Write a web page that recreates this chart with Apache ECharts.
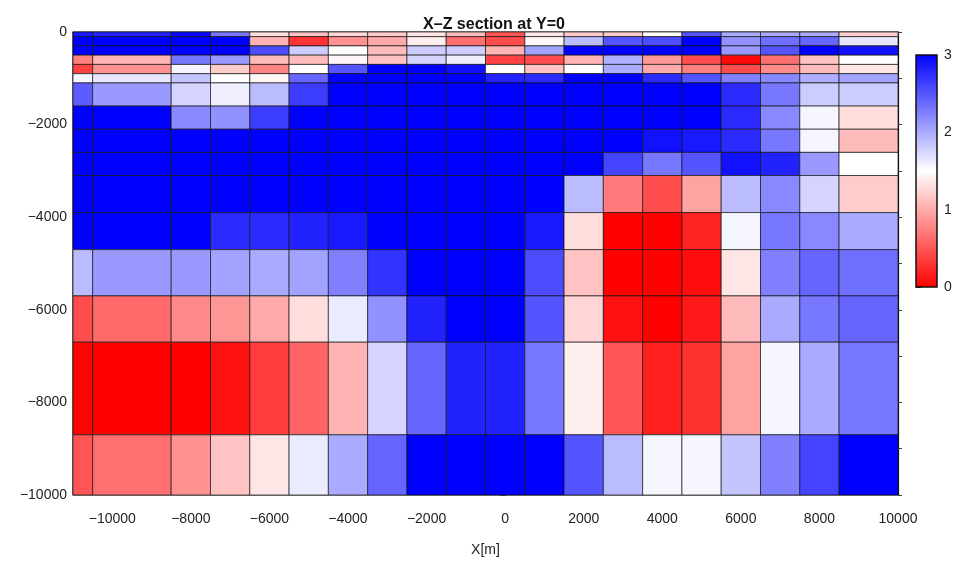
<!DOCTYPE html>
<html>
<head>
<meta charset="utf-8">
<script src="https://cdn.jsdelivr.net/npm/echarts@6/dist/echarts.min.js"></script>
<style>
  html, body { margin: 0; padding: 0; background: #fff; }
  #chart { width: 961px; height: 568px; }
</style>
</head>
<body>
<div id="chart"></div>
<script>
// cell edges of the model grid (metres)
const xEdges = [-11000, -10500, -8500, -7500, -6500, -5500, -4500, -3500, -2500, -1500,
  -500, 500, 1500, 2500, 3500, 4500, 5500, 6500, 7500, 8500, 10000];
const zEdges = [0, -100, -300, -500, -700, -900, -1100, -1600, -2100, -2600, -3100,
  -3900, -4700, -5700, -6700, -8700, -10000];

// one row per depth layer, top to bottom, one value per x cell
const values = [
  [2.85, 2.8, 2.95, 2.3, 1.3, 1.15, 1.25, 1.2, 1.35, 1.1, 0.5, 1.35, 1.2, 1.2, 1.5, 2.5, 2.0, 2.0, 2.0, 1.2],
  [3, 3, 3, 3, 1.05, 0.3, 0.85, 1.0, 1.4, 0.65, 0.45, 1.45, 1.9, 2.5, 2.55, 3, 2.15, 2.35, 2.4, 1.65],
  [3, 3, 3, 3, 2.55, 1.8, 1.5, 1.1, 1.8, 1.8, 1.05, 2.05, 3, 3, 3, 3, 2.1, 2.5, 3, 2.9],
  [0.75, 1.05, 2.3, 2.1, 1.1, 1.1, 1.45, 1.15, 1.75, 1.6, 0.38, 0.45, 1.05, 1.97, 0.9, 0.45, 0.05, 0.65, 1.15, 1.5],
  [0.38, 0.85, 1.55, 1.2, 0.78, 1.5, 2.5, 3, 3, 2.9, 1.5, 1.15, 1.5, 2.0, 1.0, 0.75, 0.45, 0.82, 1.1, 1.35],
  [1.55, 1.65, 1.85, 1.5, 1.45, 2.4, 3, 3, 3, 3, 2.8, 2.75, 3, 3, 2.75, 2.5, 2.25, 2.2, 1.97, 2.05],
  [2.45, 2.1, 1.75, 1.6, 1.9, 2.65, 3, 3, 3, 3, 3, 3, 3, 3, 3, 3, 2.75, 2.3, 1.8, 1.8],
  [3, 3, 2.2, 2.15, 2.65, 3, 3, 3, 3, 3, 3, 3, 3, 3, 3, 3, 2.75, 2.2, 1.55, 1.3],
  [3, 3, 3, 3, 3, 3, 3, 3, 3, 3, 3, 3, 3, 3, 2.9, 2.85, 2.75, 2.3, 1.55, 1.1],
  [3, 3, 3, 3, 3, 3, 3, 3, 3, 3, 3, 3, 3, 2.6, 2.3, 2.5, 2.9, 2.8, 2.1, 1.5],
  [3, 3, 3, 3, 3, 3, 3, 3, 3, 3, 3, 3, 1.9, 0.72, 0.45, 0.95, 1.9, 2.2, 1.75, 1.2],
  [3, 3, 3, 2.75, 2.75, 2.8, 2.85, 3, 3, 3, 3, 2.85, 1.3, 0, 0, 0.2, 1.55, 2.3, 2.2, 2.0],
  [1.9, 2.1, 2.1, 2.05, 2.0, 2.05, 2.25, 2.7, 3, 3, 3, 2.55, 1.15, 0, 0, 0.08, 1.35, 2.25, 2.4, 2.35],
  [0.45, 0.62, 0.8, 0.88, 1.0, 1.3, 1.62, 2.15, 2.8, 3, 3, 2.5, 1.25, 0.1, 0, 0.15, 1.1, 2.0, 2.3, 2.4],
  [0.02, 0, 0, 0.1, 0.35, 0.58, 1.05, 1.75, 2.4, 2.8, 2.8, 2.3, 1.4, 0.5, 0.18, 0.28, 0.95, 1.55, 2.0, 2.3],
  [0.5, 0.65, 0.85, 1.15, 1.35, 1.62, 2.0, 2.4, 3, 3, 3, 3, 2.5, 1.9, 1.55, 1.55, 1.85, 2.25, 2.6, 3]
];

const xLabelValues = [-10000, -8000, -6000, -4000, -2000, 0, 2000, 4000, 6000, 8000, 10000];
const yLabelValues = [0, -2000, -4000, -6000, -8000, -10000];
const scaleMin = 0;
const scaleMax = 3;
const palette = ['#ff0000', '#ffffff', '#0000ff'];

const cells = [];
values.forEach((row, j) => {
  row.forEach((v, i) => {
    cells.push([xEdges[i], xEdges[i + 1], zEdges[j], zEdges[j + 1], v]);
  });
});

const thousands = [];
for (let v = -11000; v <= 10000; v += 1000) thousands.push(v);
const depthTicks = [];
for (let v = -10000; v <= 0; v += 1000) depthTicks.push(v);

const minus = v => String(v).replace('-', '\u2212');
const font = { fontFamily: 'Liberation Sans, Arial, sans-serif', fontSize: 14, color: '#222' };

const myChart = echarts.init(document.getElementById('chart'));
const option = {
  backgroundColor: '#fff',
  animation: false,
  title: {
    text: 'X\u2013Z section at Y=0',
    left: 489,
    top: 12,
    textAlign: 'center',
    textStyle: { fontFamily: 'Liberation Sans, Arial, sans-serif', fontSize: 16, fontWeight: 'bold', color: '#111' }
  },
  grid: [
    { left: 73, right: 63, top: 32, bottom: 73, show: true, borderColor: '#111', borderWidth: 1.2, backgroundColor: 'transparent' },
    { left: 916, width: 21, top: 55, height: 232 }
  ],
  visualMap: {
    show: false,
    type: 'continuous',
    seriesIndex: 0,
    dimension: 4,
    min: scaleMin,
    max: scaleMax,
    inRange: { color: palette }
  },
  xAxis: [
    {
      type: 'value', gridIndex: 0, min: -11000, max: 10000, interval: 1000,
      name: 'X[m]', nameLocation: 'middle', nameGap: 48,
      nameTextStyle: Object.assign({}, font, { fontSize: 14 }),
      axisLine: { show: true, lineStyle: { color: '#111', width: 1.2 } },
      axisTick: { show: true, length: 5, customValues: thousands, lineStyle: { color: '#444' } },
      axisLabel: Object.assign({}, font, { customValues: xLabelValues, formatter: minus, margin: 17 }),
      splitLine: { show: false }
    },
    { type: 'value', gridIndex: 1, min: 0, max: 1, show: false }
  ],
  yAxis: [
    {
      type: 'value', gridIndex: 0, min: -10000, max: 0, interval: 1000,
      axisLine: { show: true, lineStyle: { color: '#111', width: 1.2 } },
      axisTick: { show: true, length: 5, customValues: depthTicks, lineStyle: { color: '#444' } },
      axisLabel: Object.assign({}, font, { customValues: yLabelValues, formatter: minus, margin: 6 }),
      splitLine: { show: false }
    },
    {
      type: 'value', gridIndex: 0, min: -10000, max: 0, interval: 1000, position: 'right',
      axisLine: { show: true, lineStyle: { color: '#111', width: 1.2 } },
      axisTick: { show: true, length: 4, customValues: depthTicks, lineStyle: { color: '#444' } },
      axisLabel: { show: false },
      splitLine: { show: false }
    },
    {
      type: 'value', gridIndex: 1, min: scaleMin, max: scaleMax, interval: 1, position: 'right',
      axisLine: { show: false },
      axisTick: { show: true, length: 5, lineStyle: { color: '#444' } },
      axisLabel: Object.assign({}, font, { margin: 7 }),
      splitLine: { show: false }
    }
  ],
  series: [
    {
      type: 'custom',
      xAxisIndex: 0,
      yAxisIndex: 0,
      encode: { x: [0, 1], y: [2, 3] },
      data: cells,
      renderItem: function (params, api) {
        const p0 = api.coord([api.value(0), api.value(2)]);
        const p1 = api.coord([api.value(1), api.value(3)]);
        return {
          type: 'rect',
          shape: { x: p0[0], y: p0[1], width: p1[0] - p0[0], height: p1[1] - p0[1] },
          style: { fill: api.visual('color'), stroke: 'rgba(20,20,20,0.85)', lineWidth: 0.8 }
        };
      }
    },
    {
      type: 'custom',
      xAxisIndex: 1,
      yAxisIndex: 2,
      data: [[0, 1, scaleMax, scaleMin]],
      renderItem: function (params, api) {
        const p0 = api.coord([api.value(0), api.value(2)]);
        const p1 = api.coord([api.value(1), api.value(3)]);
        return {
          type: 'rect',
          shape: { x: p0[0], y: p0[1], width: p1[0] - p0[0], height: p1[1] - p0[1] },
          style: {
            fill: new echarts.graphic.LinearGradient(0, 0, 0, 1, [
              { offset: 0, color: palette[2] },
              { offset: 0.5, color: palette[1] },
              { offset: 1, color: palette[0] }
            ]),
            stroke: '#111',
            lineWidth: 1.5
          }
        };
      }
    }
  ]
};
myChart.setOption(option);
</script>
</body>
</html>
